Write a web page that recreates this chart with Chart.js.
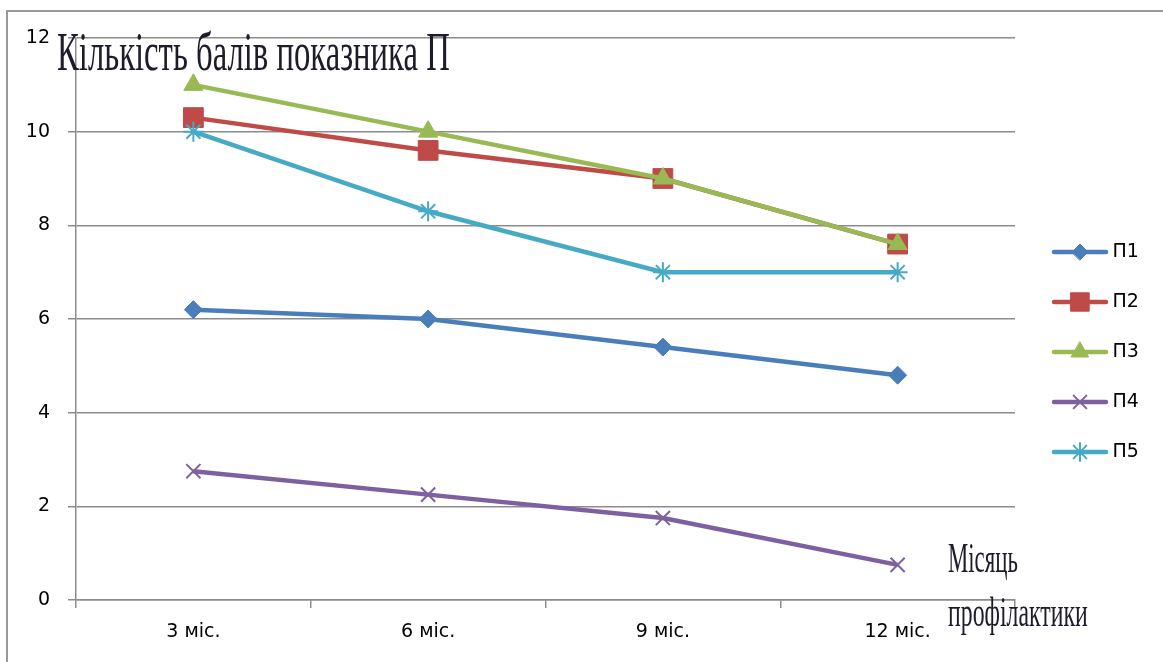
<!DOCTYPE html>
<html lang="uk">
<head>
  <meta charset="UTF-8">
  <title>Кількість балів показника П</title>
  <style>
    html, body { margin: 0; padding: 0; background: #fff; overflow: hidden; }
    #wrap { position: relative; width: 1163px; height: 662px; overflow: hidden; }
    #frame { position: absolute; left: 6px; top: 10px; width: 1300px; height: 800px;
             border-left: 2px solid #9a9a9a; border-top: 2px solid #9a9a9a; }
    #graphic { position: absolute; left: 0; top: 0; }
    .note { position: absolute; font-family: 'Liberation Serif', 'DejaVu Serif', serif;
            color: #1c1c2a; line-height: 1; white-space: nowrap; display: inline-block;
            transform-origin: 0 0; }
    #titulo { left: 57px; top: 25px; font-size: 54px; }
    #mes1 { left: 948px; top: 537px; font-size: 42px; }
    #mes2 { left: 948px; top: 591px; font-size: 42px; }
  </style>
</head>
<body>
  <div id="wrap">
    <div id="frame"></div>
    <canvas id="graphic" width="1163" height="662"></canvas>
    <div class="note" id="titulo" data-w="393">Кількість балів показника П</div>
    <div class="note" id="mes1" data-w="70">Місяць</div>
    <div class="note" id="mes2" data-w="140">профілактики</div>
  </div>

  <script src="https://cdn.jsdelivr.net/npm/chart.js"></script>
  <script>
    // datos
    const meses = ['3 міс.', '6 міс.', '9 міс.', '12 міс.'];
    const nombres = ['П1', 'П2', 'П3', 'П4', 'П5'];
    const p1 = [6.2, 6.0, 5.4, 4.8];
    const p2 = [10.3, 9.6, 9.0, 7.6];
    const p3 = [11.0, 10.0, 9.0, 7.6];
    const p4 = [2.75, 2.25, 1.75, 0.75];
    const p5 = [10.0, 8.3, 7.0, 7.0];
    const yMin = 0, yMax = 12, yPaso = 2;

    const colores = ['#4A7EBB', '#BE4B48', '#98B954', '#7D60A0', '#46AAC5'];
    const estilos = ['rectRot', 'rect', 'triangle', 'crossRot', 'star'];
    const radios = [9, 14, 11, 10, 10];
    const valores = [p1, p2, p3, p4, p5];
    const esLinea = s => s === 'crossRot' || s === 'star';

    // comprimir los textos a su ancho
    document.querySelectorAll('.note').forEach(el => {
      const s = parseFloat(el.dataset.w) / el.offsetWidth;
      el.style.transform = 'scaleX(' + s + ')';
    });

    // icono de leyenda: linea + marcador
    function icono(i) {
      const c = document.createElement('canvas');
      c.width = 58; c.height = 26;
      const ctx = c.getContext('2d');
      ctx.strokeStyle = colores[i];
      ctx.lineWidth = 4.5;
      ctx.lineCap = 'round';
      ctx.beginPath();
      ctx.moveTo(3, 13);
      ctx.lineTo(55, 13);
      ctx.stroke();
      ctx.fillStyle = colores[i];
      ctx.lineWidth = esLinea(estilos[i]) ? 2 : 1;
      Chart.helpers.drawPoint(ctx, {
        pointStyle: estilos[i], radius: radios[i] - 1, rotation: 0,
        borderWidth: ctx.lineWidth
      }, 29, 13);
      return c;
    }
    const iconos = nombres.map((n, i) => icono(i));

    Chart.defaults.font.family = "'DejaVu Sans', sans-serif";
    Chart.defaults.color = '#000';

    const lienzo = document.getElementById('graphic');
    new Chart(lienzo, {
      type: 'line',
      data: {
        labels: meses,
        datasets: nombres.map((n, i) => ({
          label: n,
          data: valores[i],
          order: 5 - i,
          borderColor: colores[i],
          backgroundColor: colores[i],
          borderWidth: 4.5,
          tension: 0,
          pointStyle: estilos[i],
          pointRadius: radios[i],
          pointBackgroundColor: colores[i],
          pointBorderColor: colores[i],
          pointBorderWidth: esLinea(estilos[i]) ? 2 : 1
        }))
      },
      options: {
        responsive: false,
        animation: false,
        layout: { padding: { left: 27, top: 38, right: 19, bottom: 17 } },
        scales: {
          x: {
            offset: true,
            grid: { offset: true, drawOnChartArea: false, tickLength: 8, color: '#8c8c8c', lineWidth: 1.5 },
            border: { color: '#8c8c8c', width: 1.5 },
            ticks: { font: { size: 19 }, padding: 13, color: '#000' },
            afterFit: s => { s.height = 45; }
          },
          y: {
            min: yMin,
            max: yMax,
            ticks: { stepSize: yPaso, font: { size: 19 }, padding: 18, color: '#000' },
            grid: { color: '#8c8c8c', lineWidth: 1.5, tickLength: 8 },
            border: { color: '#8c8c8c', width: 1.5 },
            afterFit: s => { s.width = 49; }
          },
          // eje vacio solo para separar la leyenda
          yR: {
            position: 'right',
            grid: { display: false },
            border: { display: false },
            ticks: { display: false },
            afterFit: s => { s.width = 11; }
          }
        },
        plugins: {
          legend: {
            position: 'right',
            maxWidth: 118,
            title: { display: true, text: '', font: { size: 10, lineHeight: 1 }, padding: { top: 11, bottom: 0 } },
            labels: {
              usePointStyle: true,
              pointStyleWidth: 46,
              padding: 31,
              font: { size: 19 },
              color: '#000',
              sort: (a, b) => a.datasetIndex - b.datasetIndex,
              generateLabels: chart => {
                const items = Chart.defaults.plugins.legend.labels.generateLabels(chart);
                items.forEach(it => { it.pointStyle = iconos[it.datasetIndex]; });
                return items;
              }
            }
          },
          tooltip: { enabled: false }
        }
      }
    });
  </script>
</body>
</html>
